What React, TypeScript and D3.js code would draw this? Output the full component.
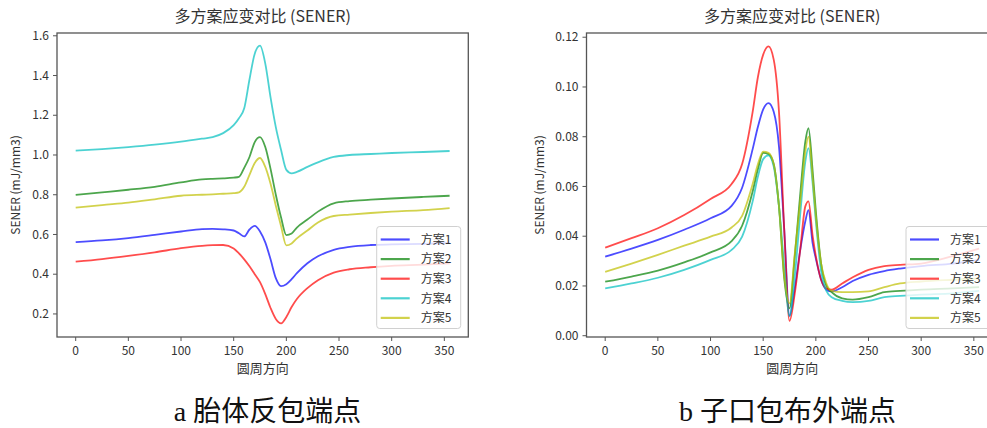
import React from 'react';
import * as d3 from 'd3';

const seriesNames = ['方案1', '方案2', '方案3', '方案4', '方案5'];
const seriesColors = ['#0000ff', '#008000', '#ff0000', '#00bfbf', '#bfbf00'];

const xTicks = [0, 50, 100, 150, 200, 250, 300, 350];
const leftYTicks = [0.2, 0.4, 0.6, 0.8, 1.0, 1.2, 1.4, 1.6];
const rightYTicks = [0, 0.02, 0.04, 0.06, 0.08, 0.1, 0.12];

const leftX = [0, 25, 50, 75, 100, 120, 130, 140, 150, 155, 160, 165, 170, 175, 180, 185, 190, 195, 200, 205, 210, 220, 230, 245, 260, 280, 300, 330, 355];
const leftPlan1 = [0.561, 0.57, 0.582, 0.598, 0.615, 0.627, 0.628, 0.626, 0.62, 0.606, 0.59, 0.625, 0.643, 0.615, 0.56, 0.475, 0.38, 0.34, 0.35, 0.375, 0.405, 0.455, 0.49, 0.523, 0.538, 0.547, 0.55, 0.553, 0.557];
const leftPlan2 = [0.799, 0.812, 0.825, 0.84, 0.862, 0.877, 0.88, 0.882, 0.886, 0.89, 0.935, 0.99, 1.065, 1.09, 1.04, 0.93, 0.8, 0.685, 0.597, 0.605, 0.635, 0.675, 0.715, 0.757, 0.768, 0.775, 0.781, 0.789, 0.795];
const leftPlan3 = [0.463, 0.476, 0.492, 0.51, 0.531, 0.543, 0.546, 0.547, 0.53, 0.505, 0.475, 0.44, 0.4, 0.36, 0.3, 0.23, 0.175, 0.153, 0.185, 0.235, 0.275, 0.33, 0.37, 0.408, 0.425, 0.435, 0.442, 0.448, 0.455];
const leftPlan4 = [1.022, 1.03, 1.04, 1.052, 1.067, 1.082, 1.09, 1.11, 1.15, 1.185, 1.235, 1.38, 1.51, 1.55, 1.46, 1.29, 1.14, 1.025, 0.925, 0.908, 0.915, 0.94, 0.963, 0.99, 1.0, 1.005, 1.01, 1.015, 1.02];
const leftPlan5 = [0.735, 0.748, 0.76, 0.777, 0.795, 0.8, 0.802, 0.805, 0.808, 0.812, 0.84, 0.9, 0.96, 0.985, 0.94, 0.855, 0.745, 0.641, 0.545, 0.555, 0.58, 0.62, 0.66, 0.693, 0.7, 0.708, 0.715, 0.723, 0.733];

const rightX = [0, 25, 50, 75, 100, 120, 130, 140, 145, 150, 155, 160, 165, 170, 175, 180, 185, 190, 193, 197, 200, 205, 210, 215, 225, 235, 250, 265, 280, 300, 330, 355];
const rightPlan1 = [0.0318, 0.035, 0.0385, 0.0426, 0.0472, 0.0522, 0.0595, 0.075, 0.084, 0.091, 0.0935, 0.09, 0.076, 0.0425, 0.008, 0.019, 0.034, 0.046, 0.0505, 0.037, 0.031, 0.0225, 0.0185, 0.0178, 0.0195, 0.022, 0.0245, 0.026, 0.027, 0.028, 0.029, 0.0305];
const rightPlan2 = [0.0217, 0.0238, 0.0262, 0.0295, 0.0335, 0.038, 0.0442, 0.058, 0.067, 0.0735, 0.073, 0.069, 0.052, 0.023, 0.011, 0.032, 0.056, 0.078, 0.0834, 0.066, 0.05, 0.029, 0.02, 0.0175, 0.015, 0.0145, 0.0155, 0.0175, 0.018, 0.0185, 0.019, 0.0195];
const rightPlan3 = [0.0354, 0.0392, 0.0432, 0.0485, 0.055, 0.061, 0.069, 0.09, 0.104, 0.113, 0.1163, 0.111, 0.09, 0.0425, 0.006, 0.017, 0.034, 0.052, 0.054, 0.04, 0.032, 0.0225, 0.019, 0.0185, 0.021, 0.0235, 0.0265, 0.028, 0.0285, 0.029, 0.032, 0.035];
const rightPlan4 = [0.019, 0.021, 0.0233, 0.0265, 0.0305, 0.0345, 0.0398, 0.054, 0.064, 0.071, 0.0725, 0.068, 0.052, 0.028, 0.008, 0.024, 0.048, 0.07, 0.0754, 0.061, 0.046, 0.026, 0.018, 0.0155, 0.014, 0.0135, 0.014, 0.0155, 0.016, 0.0165, 0.017, 0.018];
const rightPlan5 = [0.0257, 0.029, 0.0325, 0.0362, 0.0398, 0.0435, 0.0482, 0.061, 0.069, 0.074, 0.0735, 0.069, 0.052, 0.024, 0.013, 0.033, 0.053, 0.074, 0.08, 0.063, 0.048, 0.029, 0.021, 0.018, 0.0175, 0.0175, 0.0178, 0.0195, 0.021, 0.0218, 0.0225, 0.023];

const titleText = '多方案应变对比 (SENER)';
const yLabelText = 'SENER (mJ/mm3)';
const xLabelText = '圆周方向';
const captionLeft = 'a 胎体反包端点';
const captionRight = 'b 子口包布外端点';

const cjk = "'Noto Sans CJK SC', 'DejaVu Sans', sans-serif";
const textColor = '#333';
const axisColor = '#555';

type PanelProps = {
  left: number;
  right: number;
  top: number;
  bottom: number;
  xDomain: [number, number];
  yDomain: [number, number];
  yTicks: number[];
  yFormat: (v: number) => string;
  xs: number[];
  series: number[][];
  legendX: number;
  legendW: number;
  yLabelOffset: number;
};

function Panel(p: PanelProps) {
  const x = d3.scaleLinear().domain(p.xDomain).range([p.left, p.right]);
  const y = d3.scaleLinear().domain(p.yDomain).range([p.bottom, p.top]);
  const line = d3
    .line<number>()
    .x((_, i) => x(p.xs[i]))
    .y((d) => y(d))
    .curve(d3.curveMonotoneX);
  const cx = (p.left + p.right) / 2;
  const cy = (p.top + p.bottom) / 2;
  const legTop = 226.5;
  const legStep = 19.6;
  return (
    <g>
      {p.series.map((s, i) => (
        <path key={i} d={line(s) || ''} fill="none" stroke={seriesColors[i]} strokeOpacity={0.7} strokeWidth={1.8} strokeLinejoin="round" />
      ))}
      <rect x={p.left} y={p.top} width={p.right - p.left} height={p.bottom - p.top} fill="none" stroke={axisColor} strokeWidth={1.3} />
      {xTicks.map((t) => (
        <g key={t}>
          <line x1={x(t)} x2={x(t)} y1={p.bottom} y2={p.bottom + 4} stroke={axisColor} strokeWidth={1} />
          <text x={x(t)} y={p.bottom + 18} textAnchor="middle" fontSize={12} fill={textColor} fontFamily={cjk}>{t}</text>
        </g>
      ))}
      {p.yTicks.map((t) => (
        <g key={t}>
          <line x1={p.left - 4} x2={p.left} y1={y(t)} y2={y(t)} stroke={axisColor} strokeWidth={1} />
          <text x={p.left - 8} y={y(t)} dy="0.35em" textAnchor="end" fontSize={12} fill={textColor} fontFamily={cjk}>{p.yFormat(t)}</text>
        </g>
      ))}
      <text x={cx} y={p.top - 11} textAnchor="middle" fontSize={16} fill={textColor} fontFamily={cjk}>{titleText}</text>
      <text x={cx} y={p.bottom + 36} textAnchor="middle" fontSize={13} fill={textColor} fontFamily={cjk}>{xLabelText}</text>
      <text transform={`translate(${p.left - p.yLabelOffset},${cy}) rotate(-90)`} textAnchor="middle" fontSize={12} fill={textColor} fontFamily={cjk}>{yLabelText}</text>
      <rect x={p.legendX} y={legTop} width={p.legendW} height={102} rx={3} fill="#fff" fillOpacity={0.8} stroke="#d0d0d0" strokeWidth={1} />
      {seriesNames.map((n, i) => {
        const ly = legTop + 13 + i * legStep;
        return (
          <g key={n}>
            <line x1={p.legendX + 4} x2={p.legendX + 33} y1={ly} y2={ly} stroke={seriesColors[i]} strokeOpacity={0.7} strokeWidth={2.2} />
            <text x={p.legendX + 44} y={ly} dy="0.36em" fontSize={12} fill={textColor} fontFamily={cjk}>{n}</text>
          </g>
        );
      })}
    </g>
  );
}

export default function App() {
  return (
    <svg width={987} height={428} style={{ position: 'absolute', left: 0, top: 0, background: '#fff' }}>
      <rect x={0} y={0} width={987} height={428} fill="#fff" />
      <Panel
        left={57}
        right={468.3}
        top={33}
        bottom={337}
        xDomain={[-17.75, 372.75]}
        yDomain={[0.084, 1.614]}
        yTicks={leftYTicks}
        yFormat={(v) => v.toFixed(1)}
        xs={leftX}
        series={[leftPlan1, leftPlan2, leftPlan3, leftPlan4, leftPlan5]}
        legendX={376.7}
        legendW={84}
        yLabelOffset={37}
      />
      <Panel
        left={586.5}
        right={997.8}
        top={33}
        bottom={337}
        xDomain={[-17.75, 372.75]}
        yDomain={[-0.00052, 0.1217]}
        yTicks={rightYTicks}
        yFormat={(v) => v.toFixed(2)}
        xs={rightX}
        series={[rightPlan1, rightPlan2, rightPlan3, rightPlan4, rightPlan5]}
        legendX={906}
        legendW={84}
        yLabelOffset={43}
      />
      <text x={267.5} y={421} textAnchor="middle" fontSize={28} fill="#111" fontFamily={"'Liberation Serif', 'Noto Sans CJK SC', serif"}>{captionLeft}</text>
      <text x={787.5} y={421} textAnchor="middle" fontSize={28} fill="#111" fontFamily={"'Liberation Serif', 'Noto Sans CJK SC', serif"}>{captionRight}</text>
    </svg>
  );
}
